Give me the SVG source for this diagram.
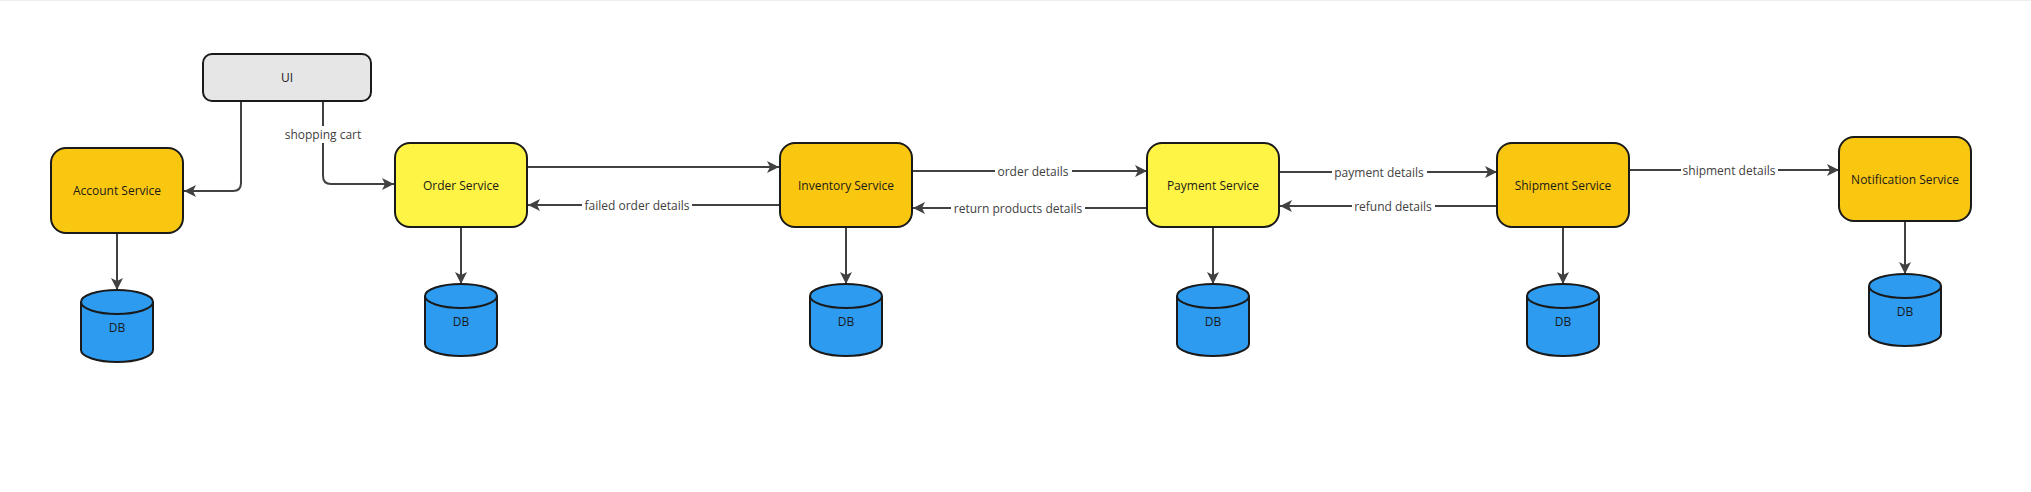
<svg xmlns="http://www.w3.org/2000/svg" width="2031" height="492" viewBox="0 0 2031 492">
<style>
  .node { stroke: #1a1a1a; stroke-width: 2; }
  .ui { fill: #e6e6e6; }
  .amber { fill: #fac710; }
  .yellow { fill: #fef445; }
  .db { fill: #2d9bf0; stroke: #1a1a1a; stroke-width: 2; }
  .t { font-family: "Open Sans", "Liberation Sans", sans-serif; font-size: 12px; fill: #1a1a1a; text-anchor: middle; dominant-baseline: central; }
  .lbl { font-family: "Open Sans", "Liberation Sans", sans-serif; font-size: 12px; fill: #414141; text-anchor: middle; dominant-baseline: central; }
  .c { fill: none; stroke: #414141; stroke-width: 2; marker-end: url(#arr); }
  .bg { fill: #ffffff; }
</style>
<defs>
  <marker id="arr" markerUnits="userSpaceOnUse" markerWidth="14" markerHeight="14" refX="12" refY="7" orient="auto">
    <path d="M0,1 L12,7 L0,13 L3,7 Z" fill="#414141"/>
  </marker>
  <g id="cyl">
    <path class="db" d="M-36,-24 L-36,24 A36,12 0 0 0 36,24 L36,-24 A36,12 0 0 0 -36,-24 Z"/>
    <path class="db" fill="none" d="M-36,-24 A36,12 0 0 0 36,-24"/>
  </g>
</defs>
<rect x="0" y="0" width="2031" height="492" fill="#ffffff"/>
<line x1="0" y1="0.5" x2="2031" y2="0.5" stroke="#eeeeee" stroke-width="1"/>

<g id="connectors">
  <path class="c" d="M241,101 L241,183 Q241,191 233,191 L184,191"/>
  <path class="c" d="M323,101 L323,176 Q323,184 331,184 L394,184"/>
  <path class="c" d="M117,233 L117,290"/>
  <path class="c" d="M461,227 L461,284"/>
  <path class="c" d="M846,227 L846,284"/>
  <path class="c" d="M1213,227 L1213,284"/>
  <path class="c" d="M1563,227 L1563,284"/>
  <path class="c" d="M1905,221 L1905,274"/>
  <path class="c" d="M527,167 L779,167"/>
  <path class="c" d="M779,205 L528,205"/>
  <path class="c" d="M912,171 L1147,171"/>
  <path class="c" d="M1147,208 L913,208"/>
  <path class="c" d="M1279,172 L1497,172"/>
  <path class="c" d="M1497,206 L1280,206"/>
  <path class="c" d="M1629,170 L1839,170"/>
  <rect class="bg" x="281" y="126" width="84" height="17"/>
  <text class="lbl" x="323" y="134">shopping cart</text>
  <rect class="bg" x="582" y="197" width="110" height="17"/>
  <text class="lbl" x="637" y="205">failed order details</text>
  <rect class="bg" x="995" y="163" width="77" height="17"/>
  <text class="lbl" x="1033" y="171">order details</text>
  <rect class="bg" x="951" y="200" width="134" height="17"/>
  <text class="lbl" x="1018" y="208">return products details</text>
  <rect class="bg" x="1332" y="164" width="95" height="17"/>
  <text class="lbl" x="1379" y="172">payment details</text>
  <rect class="bg" x="1352" y="198" width="83" height="17"/>
  <text class="lbl" x="1393" y="206">refund details</text>
  <rect class="bg" x="1681" y="162" width="97" height="17"/>
  <text class="lbl" x="1729" y="170">shipment details</text>
</g>

<g id="ui">
  <rect class="node ui" x="203" y="54" width="168" height="47" rx="9"/>
  <text class="t" x="287" y="77.5">UI</text>
</g>
<g id="account-service">
  <rect class="node amber" x="51" y="148" width="132" height="85" rx="15"/>
  <text class="t" x="117" y="190.5">Account Service</text>
</g>
<g id="account-db">
  <use href="#cyl" x="117" y="326"/>
  <text class="t" x="117" y="327">DB</text>
</g>
<g id="order-service">
  <rect class="node yellow" x="395" y="143" width="132" height="84" rx="15"/>
  <text class="t" x="461" y="185">Order Service</text>
</g>
<g id="order-db">
  <use href="#cyl" x="461" y="320"/>
  <text class="t" x="461" y="321">DB</text>
</g>
<g id="inventory-service">
  <rect class="node amber" x="780" y="143" width="132" height="84" rx="15"/>
  <text class="t" x="846" y="185">Inventory Service</text>
</g>
<g id="inventory-db">
  <use href="#cyl" x="846" y="320"/>
  <text class="t" x="846" y="321">DB</text>
</g>
<g id="payment-service">
  <rect class="node yellow" x="1147" y="143" width="132" height="84" rx="15"/>
  <text class="t" x="1213" y="185">Payment Service</text>
</g>
<g id="payment-db">
  <use href="#cyl" x="1213" y="320"/>
  <text class="t" x="1213" y="321">DB</text>
</g>
<g id="shipment-service">
  <rect class="node amber" x="1497" y="143" width="132" height="84" rx="15"/>
  <text class="t" x="1563" y="185">Shipment Service</text>
</g>
<g id="shipment-db">
  <use href="#cyl" x="1563" y="320"/>
  <text class="t" x="1563" y="321">DB</text>
</g>
<g id="notification-service">
  <rect class="node amber" x="1839" y="137" width="132" height="84" rx="15"/>
  <text class="t" x="1905" y="179">Notification Service</text>
</g>
<g id="notification-db">
  <use href="#cyl" x="1905" y="310"/>
  <text class="t" x="1905" y="311">DB</text>
</g>
</svg>
